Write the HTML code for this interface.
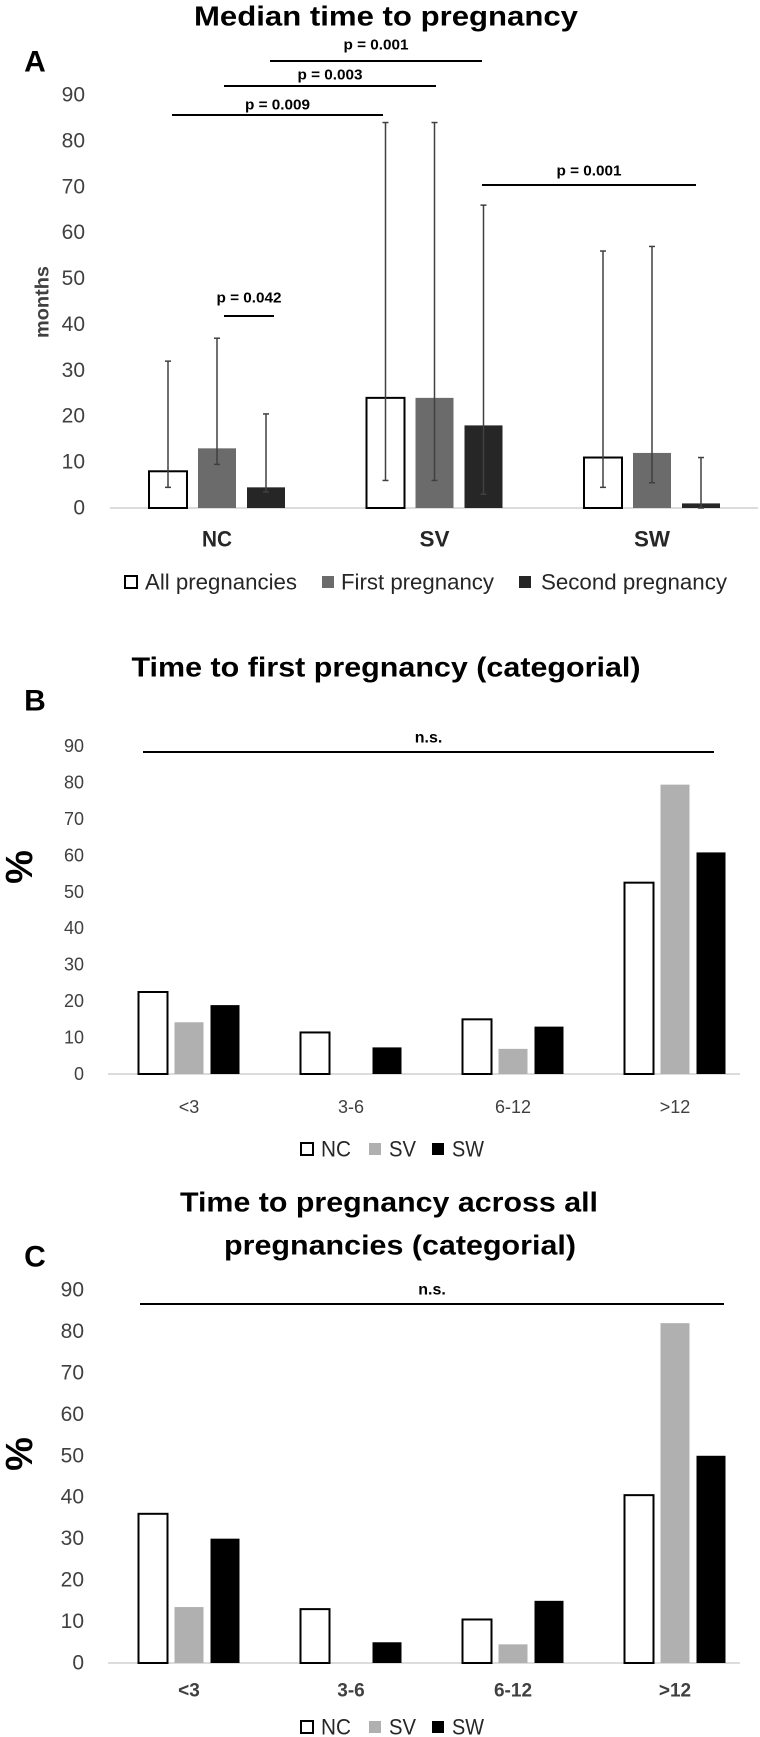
<!DOCTYPE html>
<html><head><meta charset="utf-8"><style>
html,body{margin:0;padding:0;background:#fff;}
svg{display:block;}
text{font-family:"Liberation Sans Narrow","Liberation Sans",sans-serif;}
.tick{font-family:"Liberation Sans",sans-serif;fill:#404040;}
</style></head><body>
<svg id="fig" width="760" height="1737" viewBox="0 0 760 1737" xmlns="http://www.w3.org/2000/svg"></svg>
<script>
// ---- Panel A data ----
const aCategories = ["NC","SV","SW"];
const aSeries = ["All pregnancies","First pregnancy","Second pregnancy"];
const aAll = [8, 24, 11];
const aFirst = [13, 24, 12];
const aSecond = [4.5, 18, 1];
const aAllLow = [4.5, 6, 4.5];
const aAllHigh = [32, 84, 56];
const aFirstLow = [9.5, 6, 5.5];
const aFirstHigh = [37, 84, 57];
const aSecondLow = [3.5, 3, 0];
const aSecondHigh = [20.5, 66, 11];
const aTicks = [0,10,20,30,40,50,60,70,80,90];
// ---- Panel B data ----
const bCategories = ["<3","3-6","6-12",">12"];
const bNC = [22.5, 11.4, 15, 52.5];
const bSV = [14.2, 0, 6.9, 79.4];
const bSW = [18.9, 7.3, 13, 60.8];
// ---- Panel C data ----
const cCategories = ["<3","3-6","6-12",">12"];
const cNC = [36, 13, 10.5, 40.5];
const cSV = [13.5, 0, 4.5, 82];
const cSW = [30, 5, 15, 50];
const pctTicks = [0,10,20,30,40,50,60,70,80,90];

const NS="http://www.w3.org/2000/svg";
const svg=document.getElementById('fig');
function mk(tag,attrs,parent){const e=document.createElementNS(NS,tag);for(const k in attrs)e.setAttribute(k,attrs[k]);(parent||svg).appendChild(e);return e;}
function txt(s,x,y,size,weight,anchor,parent,cls){const t=mk('text',{x:x,y:y,'font-size':size,'font-weight':weight,'text-anchor':anchor,'dominant-baseline':'central'},parent);if(cls)t.setAttribute('class',cls);t.textContent=s;return t;}
function fit(t,len){t.setAttribute('textLength',len);t.setAttribute('lengthAdjust','spacingAndGlyphs');}

// ===== Panel A =====
const gA=mk('g',{});


const aY0=508, aPer=(508-95)/90;
const ay=v=>aY0-v*aPer;
const aCx=i=>217+i*217.5;
let t=txt("Median  time to pregnancy",386,16,28,'bold','middle',gA);
fit(t,384);


t=txt("A",35,62,30,'bold','middle',gA);
t.setAttribute('font-family','Liberation Sans');


aTicks.forEach(v=>{const e=txt(String(v),85,ay(v),21,'normal','end',gA,'tick');

});
t=txt("months",43,302,19,'bold','middle',gA);
fit(t,72);
t.setAttribute('transform','rotate(-90 43 302)');
t.setAttribute('fill','#404040');


let ax=mk('line',{x1:110,x2:758,y1:aY0,y2:aY0,stroke:'#d0d0d0','stroke-width':1.5},gA);


const aVals=[aAll,aFirst,aSecond], aLo=[aAllLow,aFirstLow,aSecondLow], aHi=[aAllHigh,aFirstHigh,aSecondHigh];
const aFill=['#ffffff','#6b6b6b','#262626'];
aCategories.forEach((c,i)=>{
  for(let s=0;s<3;s++){
    const cx=aCx(i)+(s-1)*49, w=38, v=aVals[s][i];
    const r=mk('rect',{x:cx-w/2,y:ay(v),width:w,height:aY0-ay(v),fill:aFill[s],stroke:s==0?'#000':'none','stroke-width':2},gA);
    
    
    const eg=mk('g',{stroke:'#404040','stroke-width':1.5},gA);
    
    
    mk('line',{x1:cx,x2:cx,y1:ay(aLo[s][i]),y2:ay(aHi[s][i])},eg);
    mk('line',{x1:cx-3,x2:cx+3,y1:ay(aLo[s][i]),y2:ay(aLo[s][i])},eg);
    mk('line',{x1:cx-3,x2:cx+3,y1:ay(aHi[s][i]),y2:ay(aHi[s][i])},eg);
  }
  const l=txt(c,aCx(i),539,22,'bold','middle',gA);
  fit(l,c==='SW'?36:30);
  l.setAttribute('fill','#262626');
  
  
});
const sigs=[["p = 0.009",172,383,115,105],["p = 0.003",224,436,86,75],["p = 0.001",270,482,61,45],["p = 0.001",482,696,185,171],["p = 0.042",224,274,316,298]];
sigs.forEach(s=>{
  const g=mk('g',{},gA);
  
  
  mk('line',{x1:s[1],x2:s[2],y1:s[3],y2:s[3],stroke:'#000','stroke-width':2},g);
  const e=txt(s[0],(s[1]+s[2])/2,s[4],15,'bold','middle',g);
  fit(e,65);
});
// legend A
const legA=[[124,145,'All pregnancies',152],[321,341,'First pregnancy',153],[518,541,'Second pregnancy',186]];
legA.forEach((l,s)=>{
  const g=mk('g',{},gA);
  
  
  mk('rect',{x:l[0]+1,y:576,width:12,height:12,fill:aFill[s],stroke:s==0?'#000':'none','stroke-width':2},g);
  const e=txt(l[2],l[1],582,22,'normal','start',g);
  fit(e,l[3]);
  e.setAttribute('fill','#262626');
});

// ===== Panel B / C generic =====
function catPanel(opts){
  const g=mk('g',{});
  
  
  const yy=v=>opts.y0-v*opts.per;
  const cx=i=>189+i*162;
  opts.titles.forEach(tl=>{const e=txt(tl[0],tl[1],tl[2],28,'bold','middle',g);
    fit(e,tl[3]);
    
    });
  let e=txt(opts.letter,35,opts.letterY,30,'bold','middle',g);
  e.setAttribute('font-family','Liberation Sans');
  
  
  pctTicks.forEach(v=>{const k=txt(String(v),84,yy(v),opts.tickSize,'normal','end',g,'tick');
    
    });
  e=txt('%',20,opts.pctY,38,'bold','middle',g);
  e.setAttribute('font-family','Liberation Sans');
  e.setAttribute('transform','rotate(-90 20 '+opts.pctY+')');
  
  
  const a=mk('line',{x1:108,x2:740,y1:opts.y0,y2:opts.y0,stroke:'#d0d0d0','stroke-width':1.5},g);
  
  
  const fills=['#ffffff','#b0b0b0','#000000'], names=['nc','sv','sw'];
  opts.cats.forEach((c,i)=>{
    opts.series.forEach((arr,s)=>{
      const v=arr[i]; if(v<=0) return;
      const x=cx(i)+(s-1)*36;
      const r=mk('rect',{x:x-14.5,y:yy(v),width:29,height:opts.y0-yy(v),fill:fills[s],stroke:s==0?'#000':'none','stroke-width':2},g);
      
      
    });
    const l=txt(c,cx(i),opts.catY,opts.catSize,opts.catWeight,'middle',g);
    l.setAttribute('fill','#404040');
    
    
  });
  const ns=mk('g',{},g);
  
  
  mk('line',{x1:opts.nsX1,x2:opts.nsX2,y1:opts.nsY,y2:opts.nsY,stroke:'#000','stroke-width':2},ns);
  txt('n.s.',(opts.nsX1+opts.nsX2)/2,opts.nsY-14,16,'bold','middle',ns);
  [['NC',300,321,30],['SV',368,389,27],['SW',431,452,32]].forEach((l,s)=>{
    const lg=mk('g',{},g);
    
    
    mk('rect',{x:l[1]+1,y:opts.legY-6,width:12,height:12,fill:fills[s],stroke:s==0?'#000':'none','stroke-width':2},lg);
    const k=txt(l[0],l[2],opts.legY,22,'normal','start',lg);
    fit(k,l[3]);
    k.setAttribute('fill','#262626');
  });
}
catPanel({name:'panel-b-chart',letter:'B',letterY:701,y0:1074,per:(1074-746)/90,tickSize:18,
  titles:[["Time to first pregnancy (categorial)",386,667,509]],
  cats:bCategories,series:[bNC,bSV,bSW],catY:1107,catSize:18,catWeight:'normal',
  nsX1:143,nsX2:714,nsY:752,pctY:867,legY:1149});
catPanel({name:'panel-c-chart',letter:'C',letterY:1257,y0:1663,per:(1663-1290)/90,tickSize:21,
  titles:[["Time to pregnancy across all",389,1202,418],["pregnancies (categorial)",400,1245,352]],
  cats:cCategories,series:[cNC,cSV,cSW],catY:1691,catSize:19,catWeight:'bold',
  nsX1:140,nsX2:724,nsY:1304,pctY:1454,legY:1727});
</script>
</body></html>
